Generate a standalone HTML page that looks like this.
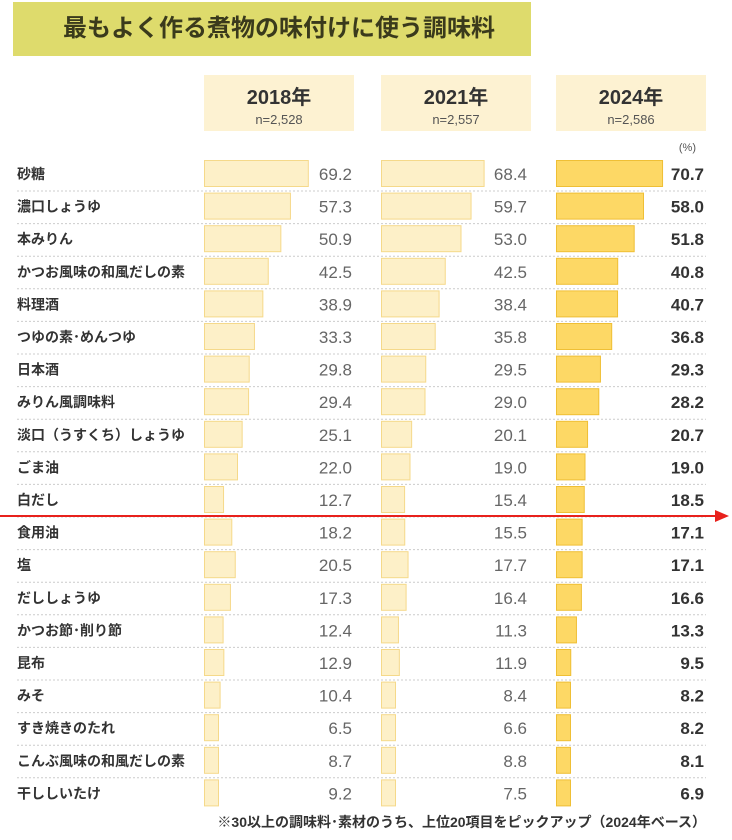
<!DOCTYPE html>
<html><head><meta charset="utf-8">
<style>
body{margin:0;background:#fff;width:732px;height:840px;overflow:hidden;font-family:"Liberation Sans","Noto Sans CJK JP",sans-serif;}
#title{position:absolute;left:13px;top:2px;width:518px;height:54px;background:#dedb6c;color:#3a3a1c;font-size:24px;font-weight:bold;line-height:54px;padding-left:50px;box-sizing:border-box;white-space:nowrap;}
.hdr{position:absolute;top:75px;width:150px;height:56px;background:#fdf2d2;text-align:center;color:#333;}
.hdr b{display:block;font-size:20px;margin-top:6px;}
.hdr span{display:block;font-size:13px;color:#555;margin-top:2px;}
svg{position:absolute;left:0;top:0;}
</style></head><body>
<div id="title">最もよく作る煮物の味付けに使う調味料</div>
<div class="hdr" style="left:204px"><b>2018年</b><span>n=2,528</span></div>
<div class="hdr" style="left:381px"><b>2021年</b><span>n=2,557</span></div>
<div class="hdr" style="left:556px"><b>2024年</b><span>n=2,586</span></div>
<svg id="chart" width="732" height="840"></svg>
<script>
const categories=["砂糖","濃口しょうゆ","本みりん","かつお風味の和風だしの素","料理酒","つゆの素･めんつゆ","日本酒","みりん風調味料","淡口（うすくち）しょうゆ","ごま油","白だし","食用油","塩","だししょうゆ","かつお節･削り節","昆布","みそ","すき焼きのたれ","こんぶ風味の和風だしの素","干ししいたけ"];
const v2018=[69.2,57.3,50.9,42.5,38.9,33.3,29.8,29.4,25.1,22.0,12.7,18.2,20.5,17.3,12.4,12.9,10.4,6.5,8.7,9.2];
const v2021=[68.4,59.7,53.0,42.5,38.4,35.8,29.5,29.0,20.1,19.0,15.4,15.5,17.7,16.4,11.3,11.9,8.4,6.6,8.8,7.5];
const v2024=[70.7,58.0,51.8,40.8,40.7,36.8,29.3,28.2,20.7,19.0,18.5,17.1,17.1,16.6,13.3,9.5,8.2,8.2,8.1,6.9];
const series=[{vals:v2018,x0:204,right:352,fill:"#fdf0c8",stroke:"#f5d98a",tc:"#666",fw:"normal",name:"2018"},
{vals:v2021,x0:381,right:527,fill:"#fdf0c8",stroke:"#f5d98a",tc:"#666",fw:"normal",name:"2021"},
{vals:v2024,x0:556,right:704,fill:"#fdd865",stroke:"#efbf35",tc:"#333",fw:"bold",name:"2024"}];
const svg=document.getElementById('chart');const NS="http://www.w3.org/2000/svg";
const xs=v=>v*1.5;const rowY=i=>160+i*32.6;
function mk(t,a){const e=document.createElementNS(NS,t);for(const k in a)e.setAttribute(k,a[k]);svg.appendChild(e);return e;}
let p=mk('text',{x:696,y:151,'font-size':11,fill:'#555','text-anchor':'end'});p.textContent="(%)";


categories.forEach((c,i)=>{const y=rowY(i);
 let t=mk('text',{x:17,y:y+19,'font-size':14,'font-weight':'bold',fill:'#333'});t.textContent=c;
 
 
 if(i<categories.length-1){
  let l=mk('line',{x1:17,x2:706,y1:y+31,y2:y+31,stroke:'#ccc','stroke-dasharray':'2,2'});
  
  
 }
 series.forEach(s=>{const v=s.vals[i];
  let r=mk('rect',{x:s.x0+0.5,y:y+0.5,width:Math.max(xs(v),14),height:26,fill:s.fill,stroke:s.stroke});
  
  
  let vt=mk('text',{x:s.right,y:y+20,'font-size':17,'font-weight':s.fw,fill:s.tc,'text-anchor':'end'});vt.textContent=v.toFixed(1);
  
  
 });
});
let ar=mk('line',{x1:0,x2:716,y1:516,y2:516,stroke:'#e8211c','stroke-width':2});


let ah=mk('polygon',{points:'715,510 729,516 715,522',fill:'#e8211c'});


let fn=mk('text',{x:706,y:827,'font-size':14,'font-weight':'bold',fill:'#333','text-anchor':'end'});fn.textContent="※30以上の調味料･素材のうち、上位20項目をピックアップ（2024年ベース）";


</script>
</body></html>
